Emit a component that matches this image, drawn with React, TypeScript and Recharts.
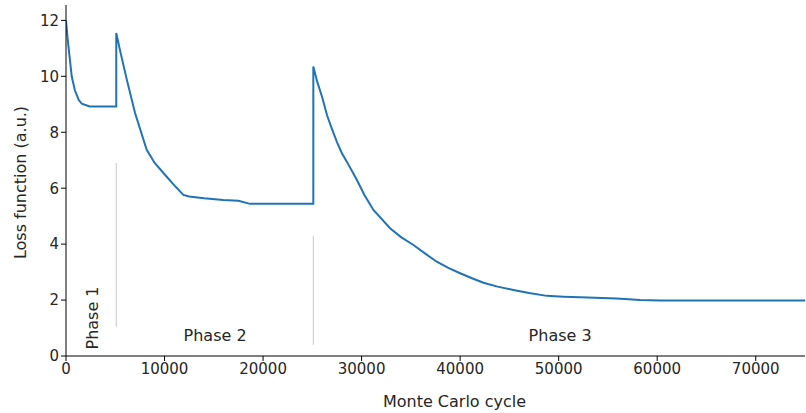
import { LineChart, Line, XAxis, YAxis, ReferenceLine, ReferenceDot } from "recharts"

// Monte Carlo cycle (x) and loss value (y)
const cycles = [
  0, 150, 300, 580, 900, 1300, 1600, 2400, 5100,
  5100, 5500, 6160, 7000, 8190, 9000, 10220, 11000, 11910, 12500, 14000, 15970, 17500, 18680, 25100,
  25100, 25500, 26000, 26500, 26970, 27500, 28000, 28500, 29510, 30300, 31200, 32890, 34000, 35260,
  36500, 37630, 38800, 40000, 41200, 42370, 43800, 45410, 47000, 48800, 50500, 52180,
  55900, 58270, 60300, 75000,
]
const loss = [
  12.0, 11.4, 10.9, 10.0, 9.5, 9.15, 9.02, 8.92, 8.92,
  11.55, 10.9, 9.9, 8.7, 7.37, 6.9, 6.41, 6.1, 5.76, 5.7, 5.64, 5.58, 5.55, 5.44, 5.44,
  10.35, 9.8, 9.25, 8.6, 8.14, 7.65, 7.25, 6.95, 6.3, 5.75, 5.22, 4.57, 4.25, 3.97,
  3.65, 3.37, 3.15, 2.96, 2.78, 2.62, 2.48, 2.36, 2.25, 2.15, 2.12, 2.1,
  2.06, 2.0, 1.98, 1.98,
]

const xTicks = [0, 10000, 20000, 30000, 40000, 50000, 60000, 70000]
const yTicks = [0, 2, 4, 6, 8, 10, 12]

// phase boundaries (x) and the span of the faint marker lines (y)
const boundaries = [
  { x: 5100, y0: 1.04, y1: 6.9 },
  { x: 25100, y0: 0.4, y1: 4.3 },
]
const phases = [
  { name: "Phase 1", x: 2640, y: 1.36, angle: -90 },
  { name: "Phase 2", x: 15130, y: 0.75, angle: 0 },
  { name: "Phase 3", x: 50150, y: 0.75, angle: 0 },
]

const data = cycles.map((c, i) => ({ cycle: c, loss: loss[i] }))

const font = "DejaVu Sans"
const ink = "#262626"

export default function App() {
  return (
    <div style={{ position: "absolute", left: 0, top: 0, background: "#fff" }}>
      <LineChart width={806} height={413} data={data} margin={{ top: 5, right: 1, left: 0, bottom: 0 }}>
        <XAxis
          dataKey="cycle"
          type="number"
          domain={[0, 75000]}
          ticks={xTicks}
          allowDataOverflow
          height={57}
          stroke="#000"
          tickSize={5}
          tick={{ fill: ink, fontSize: 15, fontFamily: font }}
          label={{ value: "Monte Carlo cycle", position: "insideBottom", offset: 6, dx: 19, fill: ink, fontSize: 16, fontFamily: font }}
        />
        <YAxis
          type="number"
          domain={[0, 12.55]}
          ticks={yTicks}
          allowDataOverflow
          width={66}
          stroke="#000"
          tickSize={5}
          tick={{ fill: ink, fontSize: 15, fontFamily: font }}
          label={{ value: "Loss function (a.u.)", angle: -90, position: "insideLeft", offset: 20, dy: 2, fill: ink, fontSize: 16, fontFamily: font, style: { textAnchor: "middle" } }}
        />
        {boundaries.map((b) => (
          <ReferenceLine
            key={b.x}
            segment={[{ x: b.x, y: b.y0 }, { x: b.x, y: b.y1 }]}
            stroke="#c8c8c8"
            strokeWidth={1}
          />
        ))}
        {phases.map((p) => (
          <ReferenceDot
            key={p.name}
            x={p.x}
            y={p.y}
            r={0}
            fill="none"
            stroke="none"
            label={{ value: p.name, position: "center", angle: p.angle, fill: ink, fontSize: 16, fontFamily: font }}
          />
        ))}
        <Line
          type="linear"
          dataKey="loss"
          stroke="#1f73b6"
          strokeWidth={2}
          dot={false}
          isAnimationActive={false}
        />
      </LineChart>
    </div>
  )
}
